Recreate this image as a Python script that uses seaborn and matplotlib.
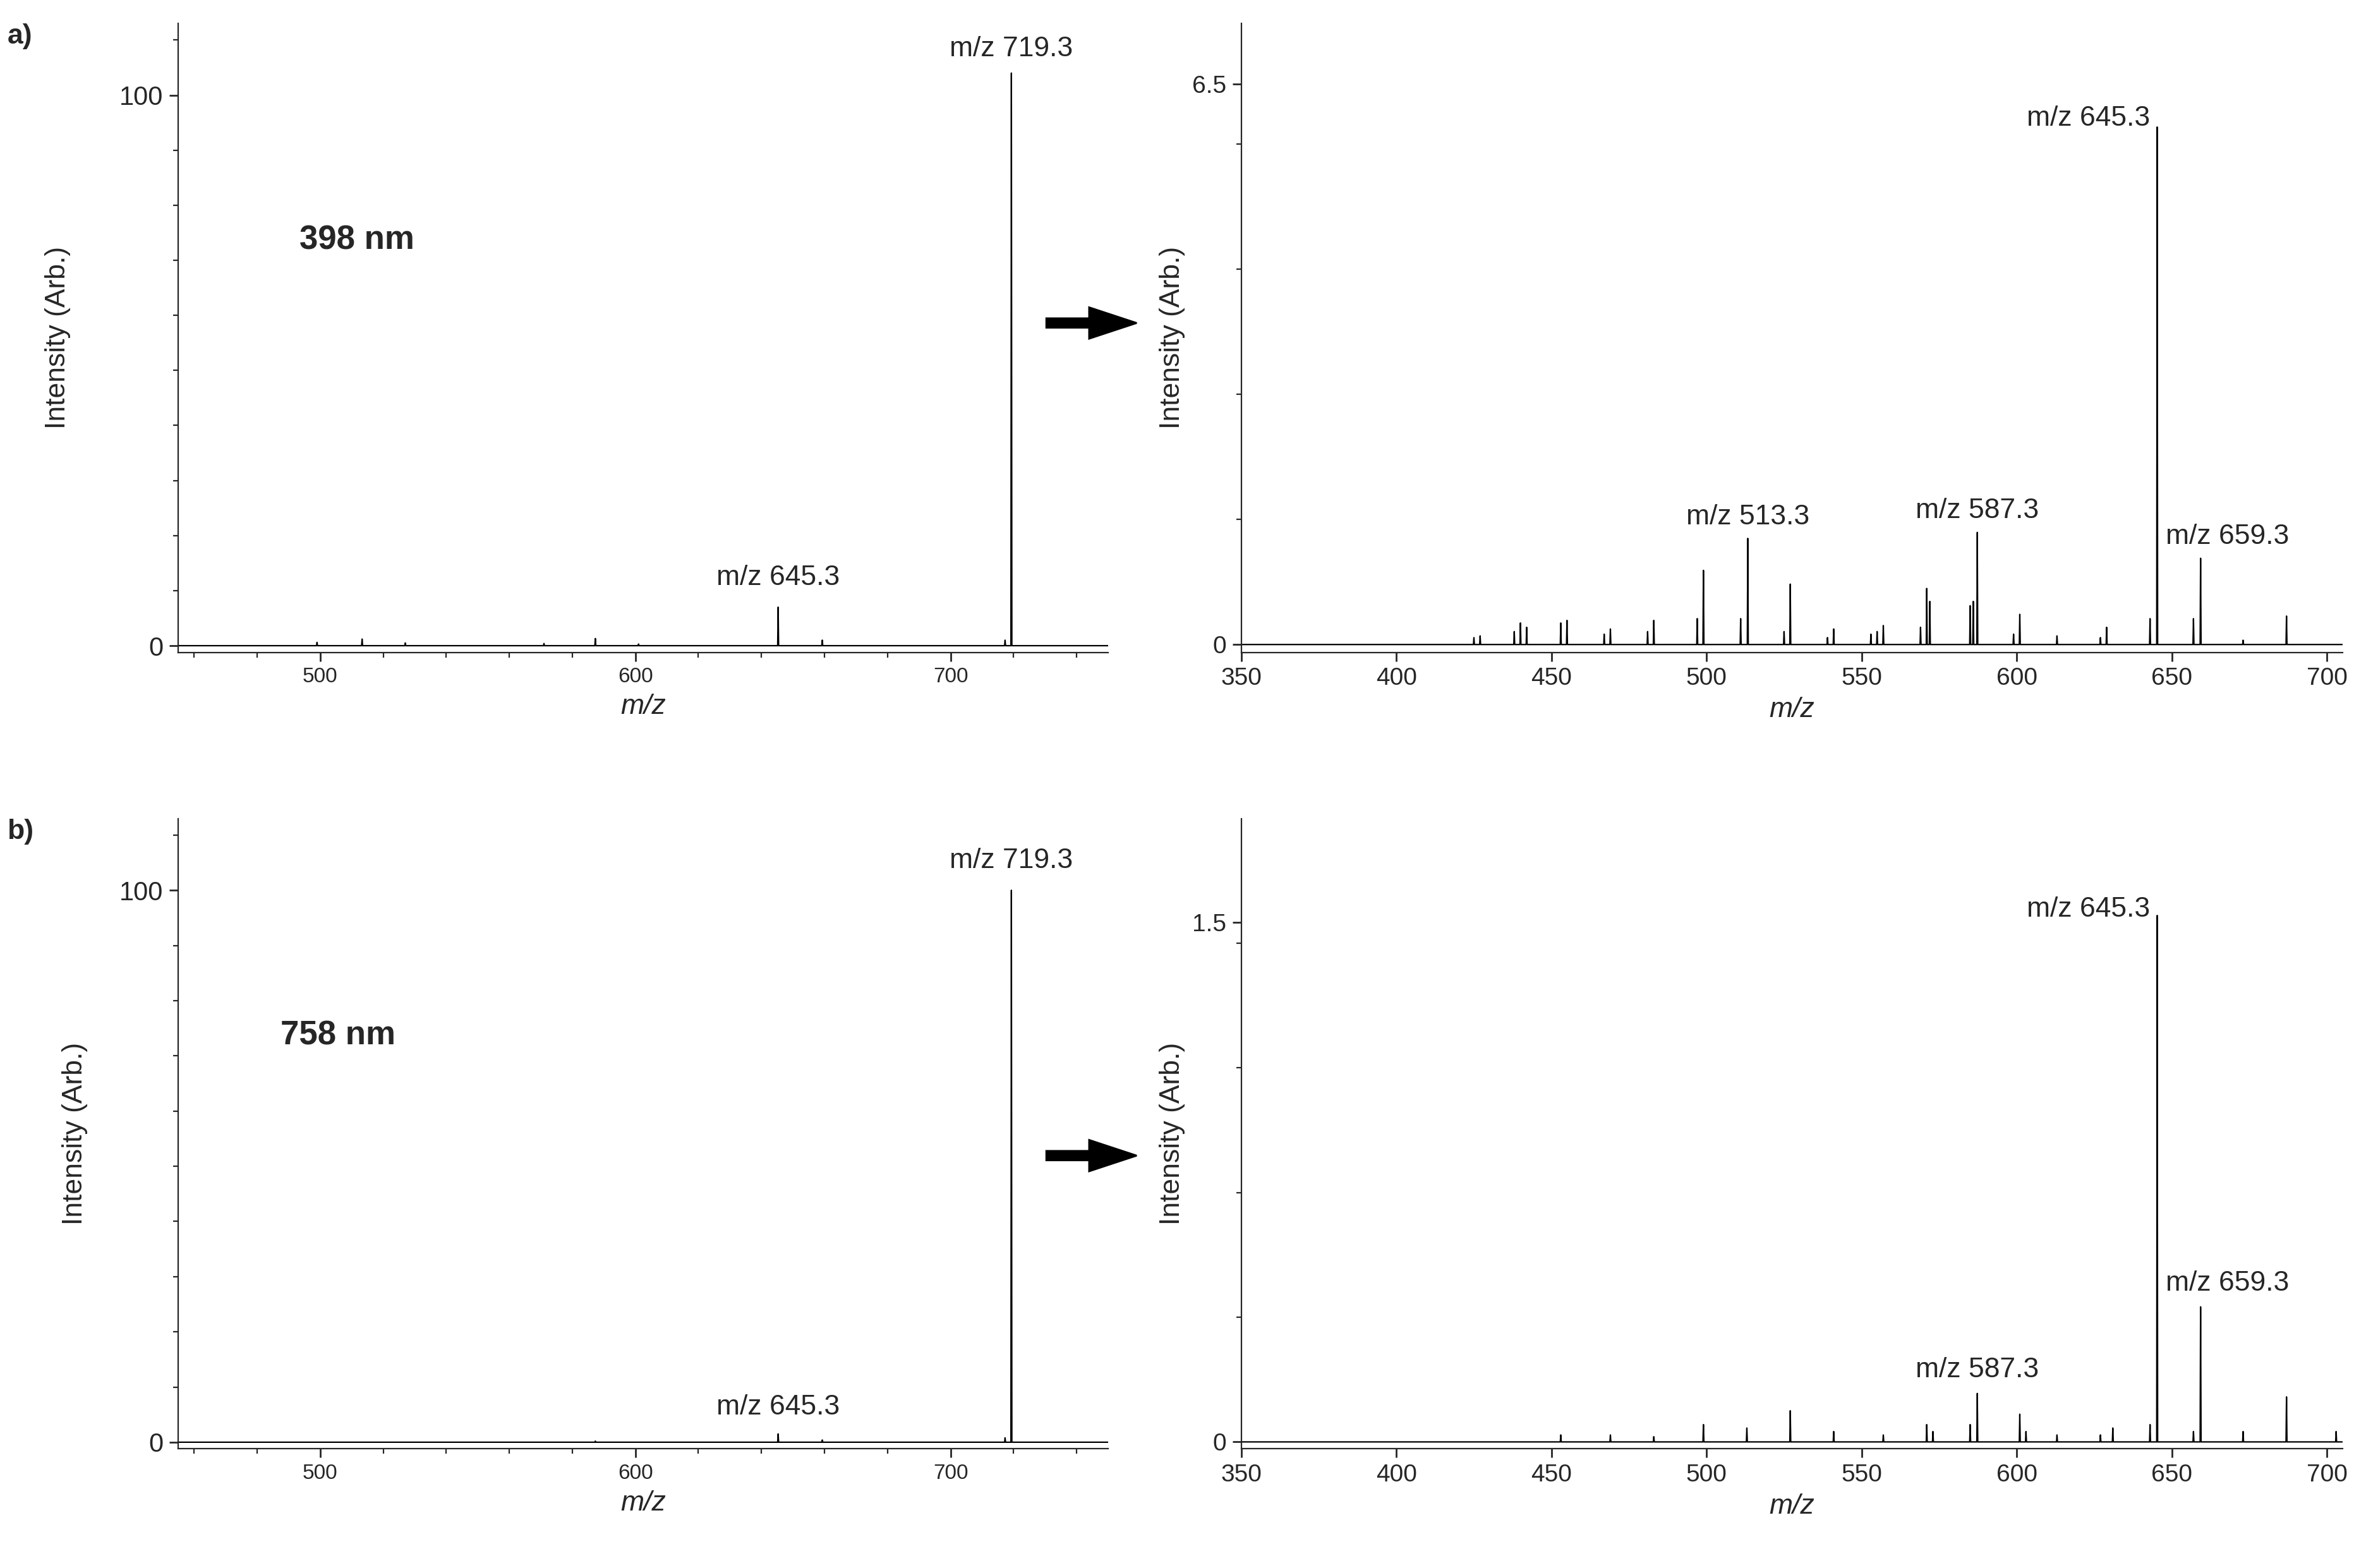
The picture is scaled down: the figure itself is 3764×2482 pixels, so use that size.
import numpy as np
import matplotlib
matplotlib.use("Agg")
import matplotlib.pyplot as plt
import seaborn as sns

sns.set_style("ticks")
plt.rcParams['font.family'] = ['Liberation Sans', 'DejaVu Sans']

# ---- data: peak lists (m/z, intensity) ----
a_full_mz = [499, 513.3, 527, 571, 587.3, 601, 645.3, 659.3, 719.3, 717.3]
a_full_int = [0.6, 1.2, 0.5, 0.4, 1.3, 0.3, 7.0, 1.0, 104.0, 1.0]

a_zoom_mz = [425, 427, 438, 440, 442, 453, 455, 467, 469, 481, 483, 497, 499, 511, 513.3,
             525, 527, 539, 541, 553, 555, 557, 569, 571, 572, 585, 586, 587.3, 599, 601,
             613, 627, 629, 643, 645.3, 657, 659.3, 673, 687]
a_zoom_int = [0.08, 0.1, 0.15, 0.25, 0.2, 0.25, 0.28, 0.12, 0.18, 0.15, 0.28, 0.3, 0.86, 0.3, 1.23,
              0.15, 0.7, 0.08, 0.18, 0.12, 0.15, 0.22, 0.2, 0.65, 0.5, 0.45, 0.5, 1.3, 0.12, 0.35,
              0.1, 0.08, 0.2, 0.3, 6.0, 0.3, 1.0, 0.05, 0.33]

b_full_mz = [587.3, 645.3, 659.3, 719.3, 717.3]
b_full_int = [0.2, 1.5, 0.4, 100.0, 0.8]

b_zoom_mz = [453, 469, 483, 499, 513, 527, 541, 557, 571, 573, 585, 587.3, 601, 603, 613,
             627, 631, 643, 645.3, 657, 659.3, 673, 687, 703]
b_zoom_int = [0.02, 0.02, 0.015, 0.05, 0.04, 0.09, 0.03, 0.02, 0.05, 0.03, 0.05, 0.14, 0.08, 0.03, 0.02,
              0.02, 0.04, 0.05, 1.52, 0.03, 0.39, 0.03, 0.13, 0.03]


def sticks(mz, inten):
    xs, ys = [], []
    for m, h in sorted(zip(mz, inten)):
        xs += [m - 0.15, m, m + 0.15]
        ys += [0, h, 0]
    return np.array(xs), np.array(ys)


def draw(ax, mz, inten, xlim, pad):
    x, y = sticks(mz, inten)
    xx = np.concatenate([[xlim[0]], x, [xlim[1]]])
    yy = np.concatenate([[0], y, [0]])
    ax.plot(xx, yy, color="black", lw=0.8)
    ax.set_xlim(*xlim)
    sns.despine(ax=ax)
    ax.tick_params(direction="out", length=5, width=1)
    ax.tick_params(which="minor", direction="out", length=3, width=0.8)
    ax.set_ylabel("Intensity (Arb.)", fontsize=16, labelpad=pad)
    ax.set_xlabel("m/z", fontsize=16, style="italic")


fig = plt.figure(figsize=(18.82, 12.41), dpi=200)
L, LW = 0.075, 0.391
R, RW = 0.522, 0.463
axA1 = fig.add_axes([L, 0.584, LW, 0.401])
axA2 = fig.add_axes([R, 0.584, RW, 0.401])
axB1 = fig.add_axes([L, 0.076, LW, 0.402])
axB2 = fig.add_axes([R, 0.076, RW, 0.402])

for ax, mz, it, pad in [(axA1, a_full_mz, a_full_int, 28), (axB1, b_full_mz, b_full_int, 18)]:
    draw(ax, mz, it, (455, 750), pad)
    ax.set_ylim(-1.2, 113)
    ax.set_yticks([0, 100])
    ax.set_yticks(np.arange(0, 111, 10), minor=True)
    ax.set_xticks([500, 600, 700])
    ax.set_xticks(np.arange(460, 751, 20), minor=True)
    ax.tick_params(axis="x", labelsize=12)
    ax.tick_params(axis="y", labelsize=15)

draw(axA2, a_zoom_mz, a_zoom_int, (350, 705), 4)
axA2.set_ylim(-0.09, 7.2)
axA2.set_yticks([0, 6.5])
axA2.set_yticklabels(["0", "6.5"])
axA2.set_yticks([1.45, 2.9, 4.35, 5.8], minor=True)
draw(axB2, b_zoom_mz, b_zoom_int, (350, 705), 4)
axB2.set_ylim(-0.02, 1.8)
axB2.set_yticks([0, 1.5])
axB2.set_yticklabels(["0", "1.5"])
axB2.set_yticks([0.36, 0.72, 1.08, 1.44], minor=True)
for ax in (axA2, axB2):
    ax.set_xticks(np.arange(350, 701, 50))
    ax.tick_params(labelsize=14)

fs = 16
axA1.text(719.3, 106, "m/z 719.3", ha="center", va="bottom", fontsize=fs)
axA1.text(645.3, 10, "m/z 645.3", ha="center", va="bottom", fontsize=fs)
axA1.text(0.13, 0.655, "398 nm", transform=axA1.transAxes, fontsize=19, fontweight="bold", va="center")
axB1.text(719.3, 103, "m/z 719.3", ha="center", va="bottom", fontsize=fs)
axB1.text(645.3, 4, "m/z 645.3", ha="center", va="bottom", fontsize=fs)
axB1.text(0.11, 0.655, "758 nm", transform=axB1.transAxes, fontsize=19, fontweight="bold", va="center")

axA2.text(643, 5.95, "m/z 645.3", ha="right", va="bottom", fontsize=fs)
axA2.text(513.3, 1.33, "m/z 513.3", ha="center", va="bottom", fontsize=fs)
axA2.text(587.3, 1.4, "m/z 587.3", ha="center", va="bottom", fontsize=fs)
axA2.text(668, 1.1, "m/z 659.3", ha="center", va="bottom", fontsize=fs)
axB2.text(643, 1.5, "m/z 645.3", ha="right", va="bottom", fontsize=fs)
axB2.text(587.3, 0.17, "m/z 587.3", ha="center", va="bottom", fontsize=fs)
axB2.text(668, 0.42, "m/z 659.3", ha="center", va="bottom", fontsize=fs)

fig.text(0.003, 0.972, "a)", fontsize=16, fontweight="bold")
fig.text(0.003, 0.465, "b)", fontsize=16, fontweight="bold")
for yy in (0.794, 0.263):
    fig.add_artist(matplotlib.patches.FancyArrow(0.44, yy, 0.018, 0, width=0.006,
                                                 head_width=0.02, head_length=0.02,
                                                 length_includes_head=False, color="black",
                                                 transform=fig.transFigure))
fig.savefig("out.png", dpi=200)
